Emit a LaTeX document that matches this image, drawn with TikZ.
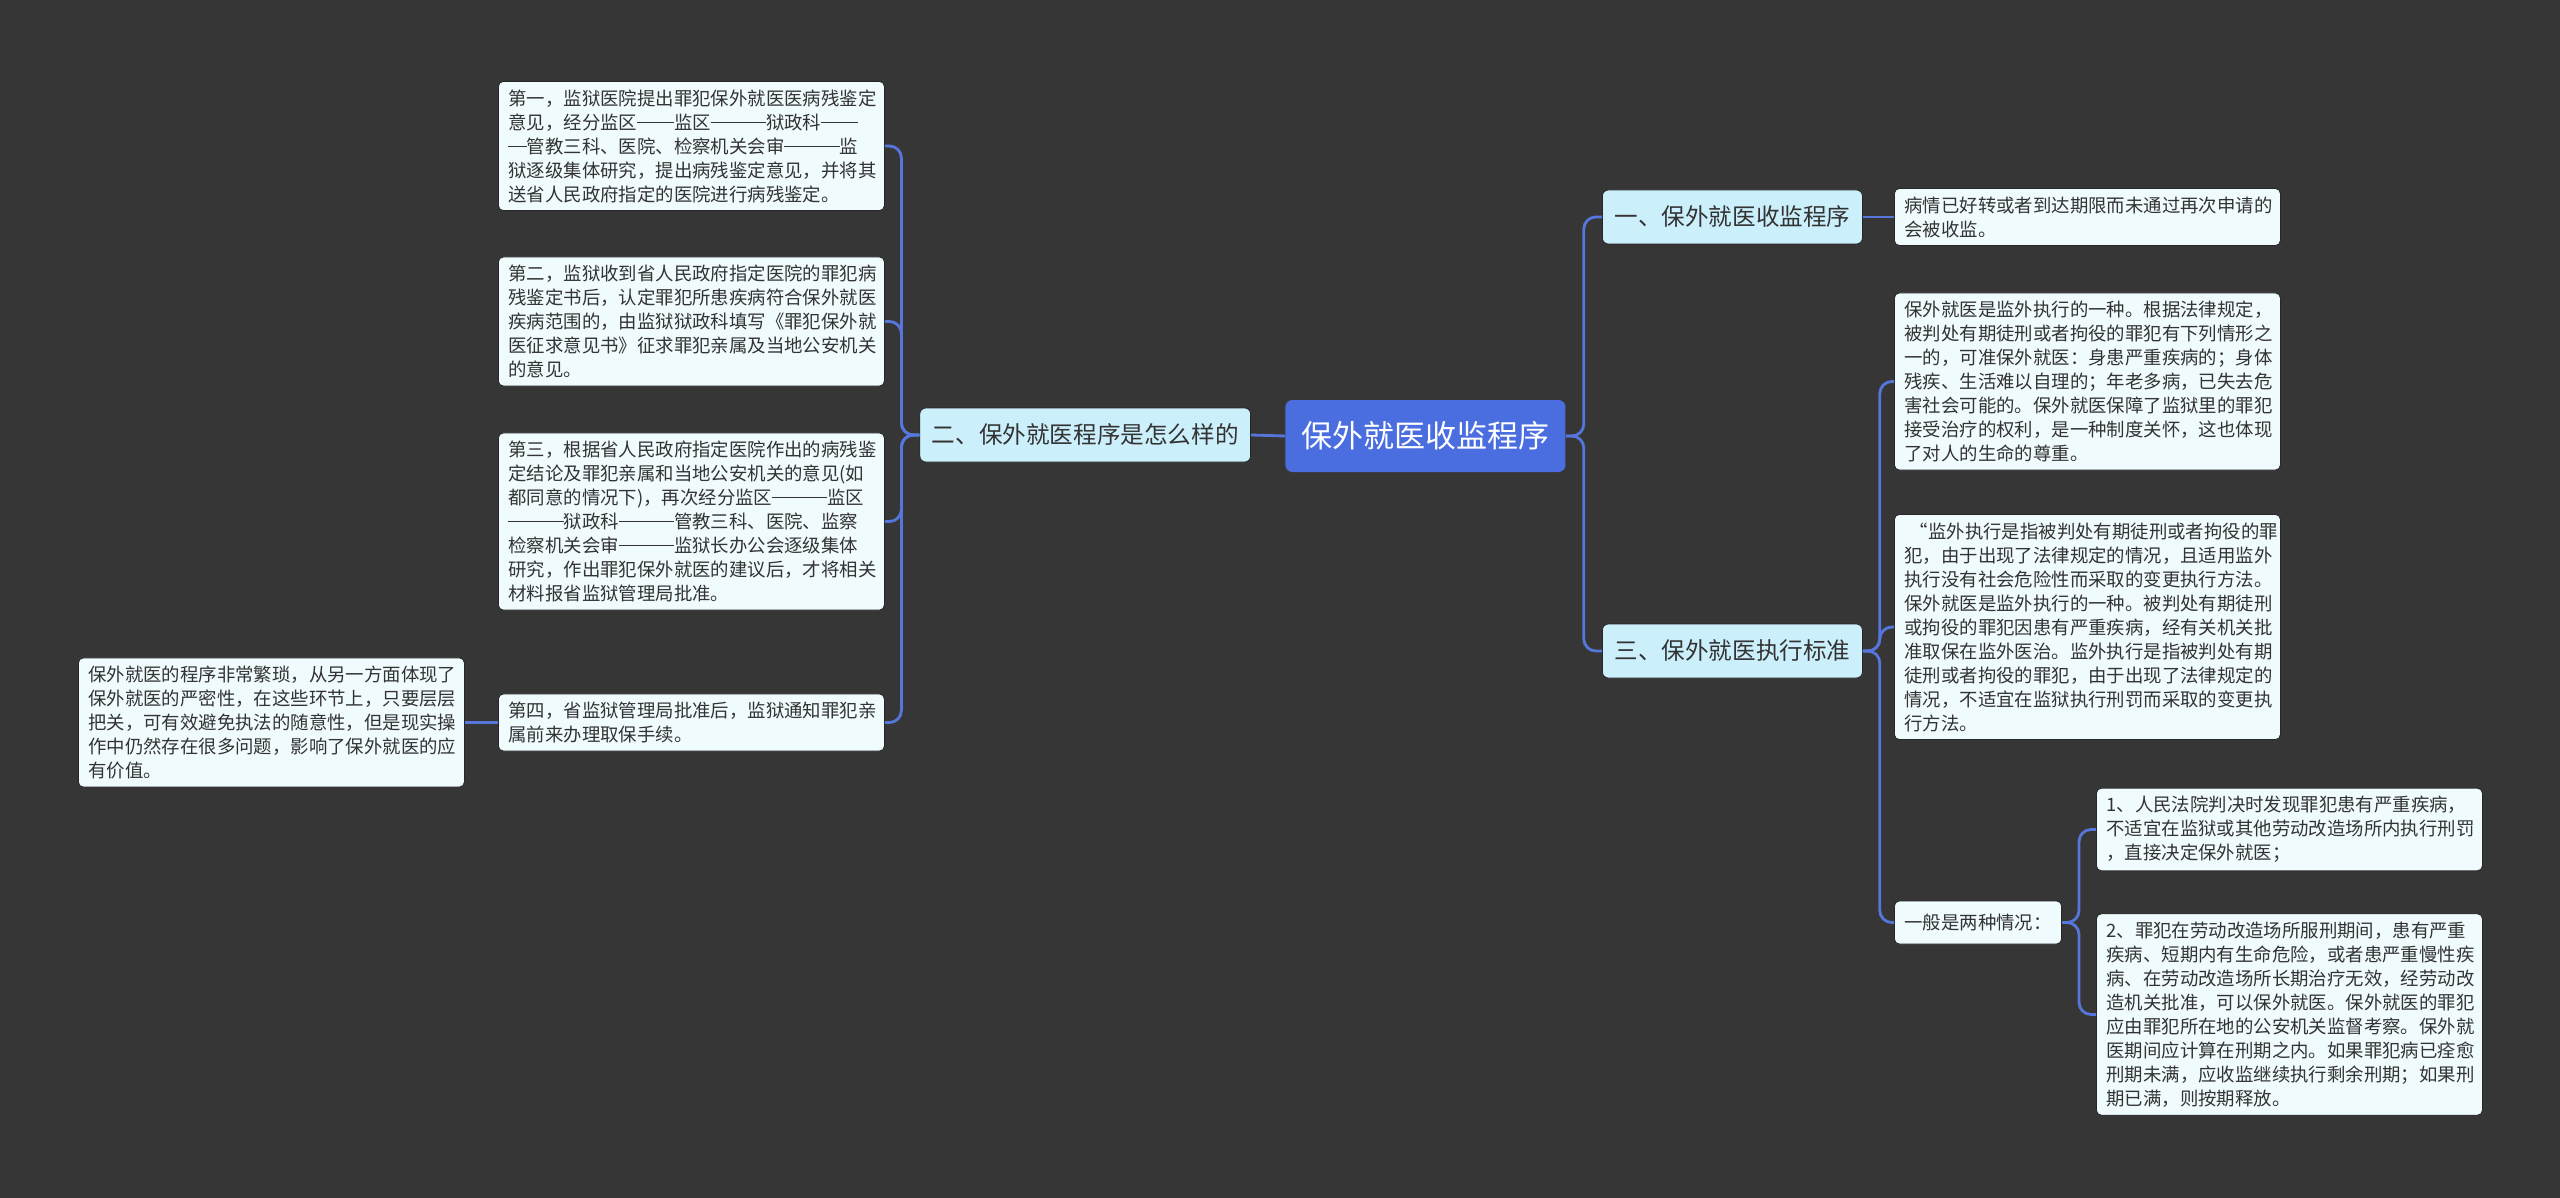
\documentclass[tikz,border=0pt]{standalone}
\usepackage{fontspec}
\setmainfont{Noto Sans CJK SC}
\definecolor{bg}{HTML}{363636}
\definecolor{rootc}{HTML}{4A6EE0}
\definecolor{branchc}{HTML}{CCEFFC}
\definecolor{leafc}{HTML}{F0FBFE}
\definecolor{linec}{HTML}{5676DC}
\definecolor{txt}{HTML}{333333}
\newcommand\emd{\rule[0.33em]{1em}{0.06em}}
\begin{document}
\begin{tikzpicture}[x=0.5pt,y=-0.5pt,
  leafbase/.style={draw=black!85, fill=leafc, rounded corners=2.5pt, align=left,
    inner xsep=5pt, inner ysep=4pt, font=\fontsize{9.2}{12}\selectfont, text=txt},
  leaf/.style={leafbase, text width=183pt},
  branch/.style={draw=black!85, fill=branchc, rounded corners=3pt, inner xsep=6pt,
    minimum height=27pt, font=\fontsize{11.8}{14}\selectfont, text=txt},
  rootbox/.style={fill=rootc, rounded corners=3.5pt, inner xsep=8pt, minimum height=36pt,
    font=\fontsize{15.5}{18}\selectfont, text=white},
  conn/.style={draw=linec, line width=1.4pt, rounded corners=6pt}]
\fill[bg] (0,0) rectangle (2560,1198);
\useasboundingbox (0,0) rectangle (2560,1198);

% root
\node[rootbox, anchor=west] (root) at (1285,436) {保外就医收监程序};

% left side
\node[branch, anchor=east] (b2) at (1251,435) {二、保外就医程序是怎么样的};
\node[leaf, anchor=west] (l1) at (498,146) {第一，监狱医院提出罪犯保外就医医病残鉴定\\意见，经分监区\emd\emd 监区\emd\emd\emd 狱政科\emd\emd\\\emd 管教三科、医院、检察机关会审\emd\emd\emd 监\\狱逐级集体研究，提出病残鉴定意见，并将其\\送省人民政府指定的医院进行病残鉴定。};
\node[leaf, anchor=west] (l2) at (498,321.5) {第二，监狱收到省人民政府指定医院的罪犯病\\残鉴定书后，认定罪犯所患疾病符合保外就医\\疾病范围的，由监狱狱政科填写《罪犯保外就\\医征求意见书》征求罪犯亲属及当地公安机关\\的意见。};
\node[leaf, anchor=west] (l3) at (498,521.5) {第三，根据省人民政府指定医院作出的病残鉴\\定结论及罪犯亲属和当地公安机关的意见(如\\都同意的情况下)，再次经分监区\emd\emd\emd 监区\\\emd\emd\emd 狱政科\emd\emd\emd 管教三科、医院、监察\\检察机关会审\emd\emd\emd 监狱长办公会逐级集体\\研究，作出罪犯保外就医的建议后，才将相关\\材料报省监狱管理局批准。};
\node[leaf, anchor=west] (l4) at (498,722.5) {第四，省监狱管理局批准后，监狱通知罪犯亲\\属前来办理取保手续。};
\node[leaf, anchor=west] (lf) at (78,722.5) {保外就医的程序非常繁琐，从另一方面体现了\\保外就医的严密性，在这些环节上，只要层层\\把关，可有效避免执法的随意性，但是现实操\\作中仍然存在很多问题，影响了保外就医的应\\有价值。};

% right side
\node[branch, anchor=west] (b1) at (1602,217) {一、保外就医收监程序};
\node[leaf, anchor=west] (r1) at (1894,217) {病情已好转或者到达期限而未通过再次申请的\\会被收监。};
\node[branch, anchor=west] (b3) at (1602,651) {三、保外就医执行标准};
\node[leaf, anchor=west] (lA) at (1894,381.5) {保外就医是监外执行的一种。根据法律规定，\\被判处有期徒刑或者拘役的罪犯有下列情形之\\一的，可准保外就医：身患严重疾病的；身体\\残疾、生活难以自理的；年老多病，已失去危\\害社会可能的。保外就医保障了监狱里的罪犯\\接受治疗的权利，是一种制度关怀，这也体现\\了对人的生命的尊重。};
\node[leaf, anchor=west] (lB) at (1894,627) {\hspace*{0.3em}“监外执行是指被判处有期徒刑或者拘役的罪\\犯，由于出现了法律规定的情况，且适用监外\\执行没有社会危险性而采取的变更执行方法。\\保外就医是监外执行的一种。被判处有期徒刑\\或拘役的罪犯因患有严重疾病，经有关机关批\\准取保在监外医治。监外执行是指被判处有期\\徒刑或者拘役的罪犯，由于出现了法律规定的\\情况，不适宜在监狱执行刑罚而采取的变更执\\行方法。};
\node[leafbase, anchor=west, minimum height=21.5pt] (gen) at (1894,922.5) {一般是两种情况：};
\node[leaf, anchor=west] (lC) at (2096,829.5) {1、人民法院判决时发现罪犯患有严重疾病，\\不适宜在监狱或其他劳动改造场所内执行刑罚\\，直接决定保外就医；};
\node[leaf, anchor=west] (lD) at (2096,1014.5) {2、罪犯在劳动改造场所服刑期间，患有严重\\疾病、短期内有生命危险，或者患严重慢性疾\\病、在劳动改造场所长期治疗无效，经劳动改\\造机关批准，可以保外就医。保外就医的罪犯\\应由罪犯所在地的公安机关监督考察。保外就\\医期间应计算在刑期之内。如果罪犯病已痊愈\\刑期未满，应收监继续执行剩余刑期；如果刑\\期已满，则按期释放。};

% connectors
\draw[conn] (root.west) -- (b2.east);
\draw[conn] (root.east) -- ++(18,0) |- (b1.west);
\draw[conn] (root.east) -- ++(18,0) |- (b3.west);
\foreach \n in {l1,l2,l3,l4} \draw[conn] (b2.west) -- ++(-18,0) |- (\n.east);
\draw[conn] (l4.west) -- (lf.east);
\draw[conn] (b1.east) -- (r1.west);
\draw[conn] (b3.east) -- ++(17,0) |- (lA.west);
\draw[conn] (b3.east) -- ++(17,0) |- (lB.west);
\draw[conn] (b3.east) -- ++(17,0) |- (gen.west);
\draw[conn] (gen.east) -- ++(17,0) |- (lC.west);
\draw[conn] (gen.east) -- ++(17,0) |- (lD.west);
\end{tikzpicture}
\end{document}
